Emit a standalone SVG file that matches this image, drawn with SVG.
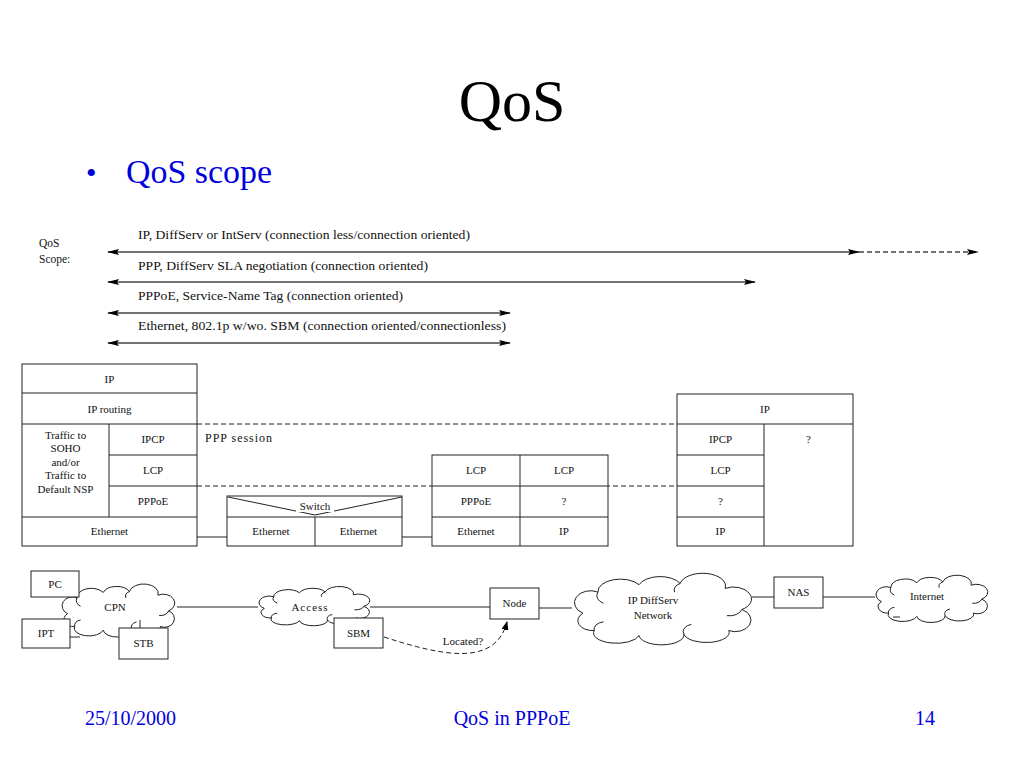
<svg xmlns="http://www.w3.org/2000/svg" xmlns:xlink="http://www.w3.org/1999/xlink" width="1024" height="768" viewBox="0 0 1024 768">
<style>
.t{font-family:"Liberation Serif","Times New Roman",serif;font-size:11px;fill:#111;text-anchor:middle}
.tl{font-family:"Liberation Serif","Times New Roman",serif;font-size:11.5px;fill:#111}
.box{fill:#fff;stroke:#222;stroke-width:1}
.ln{stroke:#222;stroke-width:1;fill:none}
.dash{stroke:#222;stroke-width:1;fill:none;stroke-dasharray:5,3}
.arr{stroke:#444;stroke-width:1.5;fill:none}
.blue{font-family:"Liberation Serif","Times New Roman",serif;fill:#0000dd}
</style>
<defs>
<marker id="ah" markerWidth="12" markerHeight="7" refX="11" refY="3.5" orient="auto-start-reverse" markerUnits="userSpaceOnUse">
<path d="M0,0.5 L12,3.5 L0,6.5 L2,3.5 Z" fill="#000"/>
</marker>
<marker id="ah2" markerWidth="9" markerHeight="7" refX="8" refY="3.5" orient="auto" markerUnits="userSpaceOnUse">
<path d="M0,0 L9,3.5 L0,7 Z" fill="#000"/>
</marker>
<g id="cloud">
<path vector-effect="non-scaling-stroke" fill="#fff" stroke="#222" stroke-width="1" d="M8,30 A8,9 0 0 1 16,13 A12,10 0 0 1 38,7 A12,10 0 0 1 60,6 A12,10 0 0 1 84,10 A9,9 0 0 1 93,27 A8,9 0 0 1 86,44 A12,8 0 0 1 62,47 A12,8 0 0 1 38,48 A12,8 0 0 1 14,44 A8,8 0 0 1 8,30 Z"/>
<path vector-effect="non-scaling-stroke" fill="none" stroke="#222" stroke-width="1" d="M16,13 a7,7 0 0 0 3,9 M93,27 a7,7 0 0 1 -8,5 M14,44 a6,6 0 0 1 5,-7 M60,6 a6,6 0 0 0 -3,7 M62,47 a6,6 0 0 1 4,-8"/>
</g>
</defs>
<rect width="1024" height="768" fill="#fff"/>

<text x="512" y="121" font-family="Liberation Serif, Times New Roman, serif" font-size="60" text-anchor="middle" fill="#000">QoS</text>
<text x="86" y="183" class="blue" font-size="30">•</text>
<text x="126" y="183" class="blue" font-size="33.5" textLength="146" lengthAdjust="spacingAndGlyphs">QoS scope</text>

<g id="scope-labels">
<text class="tl" x="39" y="247">QoS</text>
<text class="tl" x="39" y="263">Scope:</text>
<text class="tl" x="138" y="239" textLength="332" lengthAdjust="spacingAndGlyphs">IP, DiffServ or IntServ (connection less/connection oriented)</text>
<text class="tl" x="138" y="270" textLength="290" lengthAdjust="spacingAndGlyphs">PPP, DiffServ SLA negotiation (connection oriented)</text>
<text class="tl" x="138" y="300" textLength="265" lengthAdjust="spacingAndGlyphs">PPPoE, Service-Name Tag (connection oriented)</text>
<text class="tl" x="138" y="330" textLength="368" lengthAdjust="spacingAndGlyphs">Ethernet, 802.1p w/wo. SBM (connection oriented/connectionless)</text>
</g>

<g id="connectors">
<line class="arr" x1="108" y1="252" x2="859" y2="252" marker-start="url(#ah)" marker-end="url(#ah)"/>
<line class="arr" x1="859" y1="252" x2="978" y2="252" stroke-dasharray="5,3" marker-end="url(#ah)"/>
<line class="arr" x1="108" y1="282" x2="755" y2="282" marker-start="url(#ah)" marker-end="url(#ah)"/>
<line class="arr" x1="108" y1="313" x2="510" y2="313" marker-start="url(#ah)" marker-end="url(#ah)"/>
<line class="arr" x1="108" y1="343" x2="510" y2="343" marker-start="url(#ah)" marker-end="url(#ah)"/>
<line class="dash" x1="197" y1="424" x2="677" y2="424"/>
<line class="dash" x1="197" y1="486" x2="677" y2="486"/>
<line class="ln" x1="197" y1="537" x2="227" y2="537"/>
<line class="ln" x1="402" y1="537" x2="432" y2="537"/>
<line class="ln" x1="177" y1="607" x2="258" y2="607"/>
<line class="ln" x1="370" y1="607" x2="490" y2="607"/>
<line class="ln" x1="539" y1="608" x2="572" y2="608"/>
<line class="ln" x1="752" y1="597" x2="774" y2="597"/>
<line class="ln" x1="823" y1="597" x2="875" y2="597"/>
<path class="dash" stroke-dasharray="4,3" d="M384,637 C440,655 495,668 507,622" marker-end="url(#ah2)"/>
</g>
<text x="205" y="442" font-family="Liberation Serif, Times New Roman, serif" font-size="12" fill="#111" textLength="67" lengthAdjust="spacing">PPP session</text>

<g id="left-stack">
<rect class="box" x="22" y="364" width="175" height="182"/>
<line class="ln" x1="22" y1="393" x2="197" y2="393"/>
<line class="ln" x1="22" y1="424" x2="197" y2="424"/>
<line class="ln" x1="22" y1="517" x2="197" y2="517"/>
<line class="ln" x1="109" y1="424" x2="109" y2="517"/>
<line class="ln" x1="109" y1="455" x2="197" y2="455"/>
<line class="ln" x1="109" y1="486" x2="197" y2="486"/>
<text class="t" x="109.5" y="382.5">IP</text>
<text class="t" x="109.5" y="412.5">IP routing</text>
<text class="t" x="153" y="443">IPCP</text>
<text class="t" x="153" y="474">LCP</text>
<text class="t" x="153" y="505">PPPoE</text>
<text class="t" x="109.5" y="535">Ethernet</text>
<text class="t" x="65.5" y="439">Traffic to</text>
<text class="t" x="65.5" y="452">SOHO</text>
<text class="t" x="65.5" y="466">and/or</text>
<text class="t" x="65.5" y="479">Traffic to</text>
<text class="t" x="65.5" y="493">Default NSP</text>
</g>

<g id="switch">
<rect class="box" x="227" y="496" width="175" height="50"/>
<line class="ln" x1="227" y1="517" x2="402" y2="517"/>
<line class="ln" x1="315" y1="517" x2="315" y2="546"/>
<line class="ln" x1="228" y1="497" x2="315" y2="515"/>
<line class="ln" x1="402" y1="497" x2="315" y2="515"/>
<rect x="296" y="500" width="38" height="12" fill="#fff"/>
<text class="t" x="315" y="510">Switch</text>
<text class="t" x="271" y="535">Ethernet</text>
<text class="t" x="358.5" y="535">Ethernet</text>
</g>

<g id="middle-stack">
<rect class="box" x="432" y="455" width="176" height="91"/>
<line class="ln" x1="520" y1="455" x2="520" y2="546"/>
<line class="ln" x1="432" y1="486" x2="608" y2="486"/>
<line class="ln" x1="432" y1="517" x2="608" y2="517"/>
<text class="t" x="476" y="474">LCP</text>
<text class="t" x="564" y="474">LCP</text>
<text class="t" x="476" y="505">PPPoE</text>
<text class="t" x="564" y="505">?</text>
<text class="t" x="476" y="535">Ethernet</text>
<text class="t" x="564" y="535">IP</text>
</g>

<g id="right-stack">
<rect class="box" x="677" y="394" width="176" height="152"/>
<line class="ln" x1="677" y1="424" x2="853" y2="424"/>
<line class="ln" x1="764" y1="424" x2="764" y2="546"/>
<line class="ln" x1="677" y1="455" x2="764" y2="455"/>
<line class="ln" x1="677" y1="486" x2="764" y2="486"/>
<line class="ln" x1="677" y1="517" x2="764" y2="517"/>
<text class="t" x="765" y="412.5">IP</text>
<text class="t" x="720.5" y="443">IPCP</text>
<text class="t" x="808.5" y="443">?</text>
<text class="t" x="720.5" y="474">LCP</text>
<text class="t" x="720.5" y="505">?</text>
<text class="t" x="720.5" y="535">IP</text>
</g>

<g id="cpn">
<use xlink:href="#cloud" href="#cloud" transform="translate(58,586) scale(1.19,0.92)"/>
<line class="ln" x1="140" y1="620" x2="140" y2="628"/>
<line class="ln" x1="68" y1="637" x2="80" y2="637"/>
<text class="t" x="115" y="611" font-size="12.5">CPN</text>
</g>
<g id="pc"><rect class="box" x="31" y="571" width="48" height="26"/><text class="t" x="55" y="588">PC</text></g>
<g id="ipt"><rect class="box" x="22" y="619" width="48" height="29"/><text class="t" x="46" y="637">IPT</text></g>
<g id="stb"><rect class="box" x="119" y="628" width="49" height="31"/><text class="t" x="143.5" y="647">STB</text></g>

<g id="access">
<use xlink:href="#cloud" href="#cloud" transform="translate(255,588) scale(1.17,0.68)"/>
<text class="t" x="310" y="611" font-size="12" letter-spacing="1">Access</text>
</g>
<g id="sbm"><rect class="box" x="334" y="618" width="49" height="30"/><text class="t" x="358.5" y="637">SBM</text></g>
<text class="t" x="463" y="645" font-size="10.5">Located?</text>
<g id="node"><rect class="box" x="490" y="588" width="49" height="31"/><text class="t" x="514.5" y="607">Node</text></g>

<g id="ipdiffserv">
<use xlink:href="#cloud" href="#cloud" transform="translate(568,576) scale(1.87,1.24)"/>
<text class="t" x="653" y="604" font-size="12">IP DiffServ</text>
<text class="t" x="653" y="619" font-size="12">Network</text>
</g>
<g id="nas"><rect class="box" x="774" y="577" width="49" height="31"/><text class="t" x="798.5" y="596">NAS</text></g>
<g id="internet">
<use xlink:href="#cloud" href="#cloud" transform="translate(872,577) scale(1.18,0.82)"/>
<line class="ln" x1="893" y1="617" x2="900" y2="617"/>
<text class="t" x="927" y="600" font-size="12">Internet</text>
</g>

<g id="footer">
<text x="85" y="725" class="blue" font-size="20">25/10/2000</text>
<text x="512" y="725" class="blue" font-size="20" text-anchor="middle">QoS in PPPoE</text>
<text x="935" y="725" class="blue" font-size="20" text-anchor="end">14</text>
</g>
</svg>
